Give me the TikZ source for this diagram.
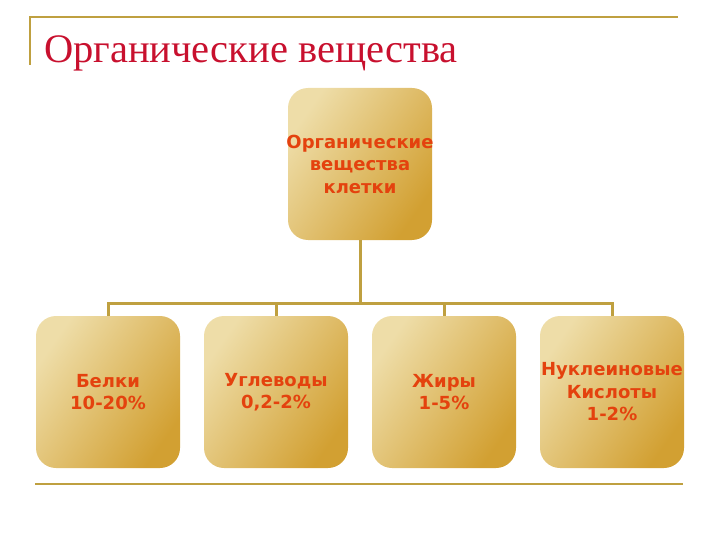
\documentclass[tikz,border=0pt]{standalone}
\usepackage{fontspec}
\setmainfont{Liberation Serif}
\newfontfamily\boxfont{DejaVu Sans}
\definecolor{rulegold}{HTML}{BFA040}
\definecolor{titlered}{HTML}{C8102E}
\definecolor{boxlight}{HTML}{EEDDA8}
\definecolor{boxdark}{HTML}{D2A032}
\definecolor{boxtext}{HTML}{E4420E}
\tikzset{
  substance/.style={rounded corners=20pt,minimum width=144pt,minimum height=152pt,
    top color=boxlight,bottom color=boxdark,shading angle=55,
    text=boxtext,font=\boxfont\bfseries\fontsize{18}{22.5}\selectfont,align=center,
    inner xsep=-6pt,inner ysep=0pt},
  link/.style={rulegold,line width=3pt}
}
\begin{document}
\begin{tikzpicture}[x=1pt,y=-1pt]
\useasboundingbox (0,0) rectangle (720,540);
\draw[rulegold,line width=2pt] (30,65) -- (30,17) -- (678,17);
\draw[rulegold,line width=2pt] (35,484) -- (683,484);
\node[anchor=base west,text=titlered,font=\fontsize{40.5}{44}\selectfont,inner sep=0pt,name=title] at (44,63) {Органические вещества};
\node [substance,name=cell] at (360,164) {Органические\\вещества\\клетки};
\node [substance,name=n1] at (108,392) {Белки\\10-20\%};
\node [substance,name=n2] at (276,392) {Углеводы\\0,2-2\%};
\node [substance,name=n3] at (444,392) {Жиры\\1-5\%};
\node [substance,name=n4] at (612,392) {Нуклеиновые\\Кислоты\\1-2\%};
\coordinate (split) at (360,303);
\draw[link] (cell.south) -- (split);
\draw[link] (split) -| (n1.north);
\draw[link] (split) -| (n2.north);
\draw[link] (split) -| (n3.north);
\draw[link] (split) -| (n4.north);
\end{tikzpicture}
\end{document}
